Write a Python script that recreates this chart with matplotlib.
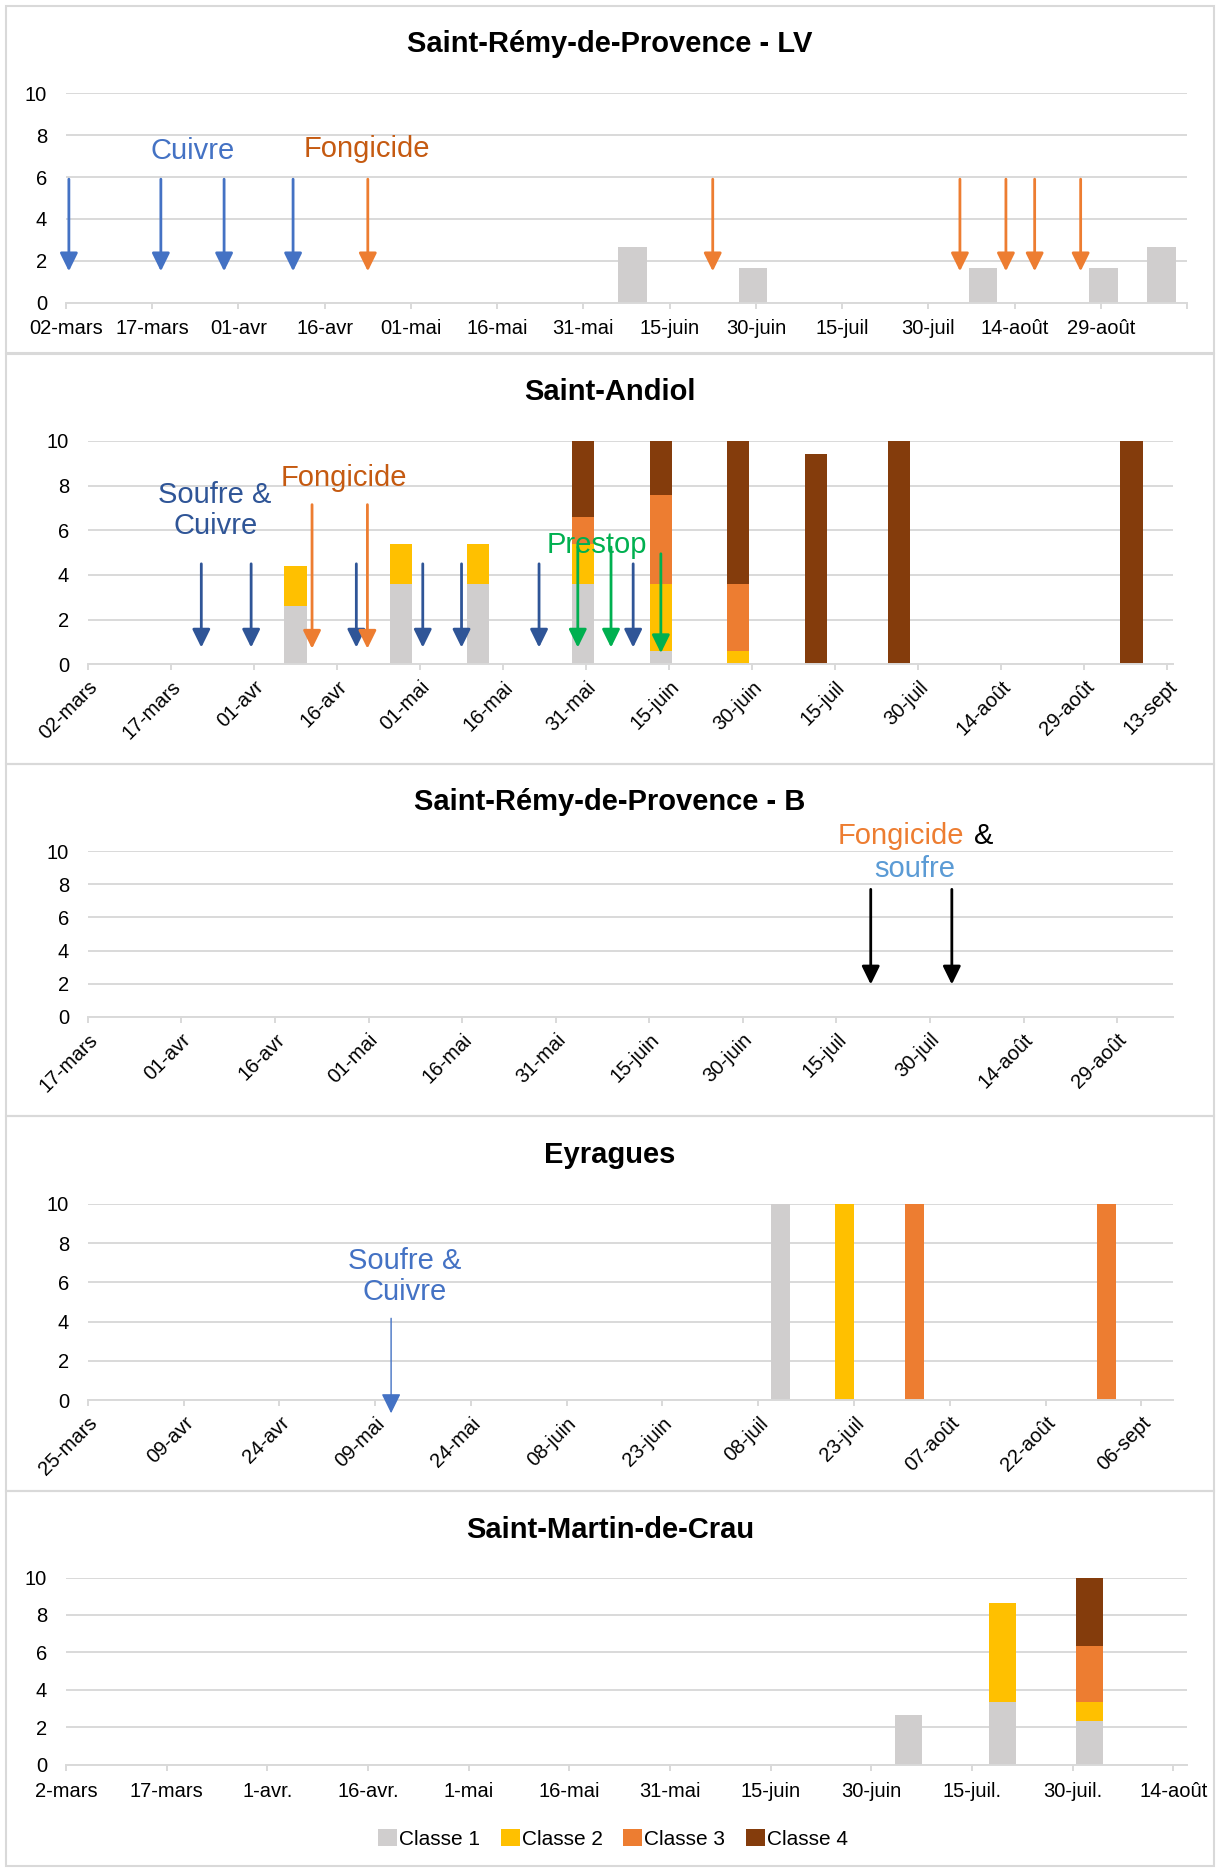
import numpy as np
import matplotlib
matplotlib.use('Agg')
import matplotlib.pyplot as plt
from matplotlib.patches import Rectangle

plt.rcParams['font.family'] = ['Liberation Sans', 'DejaVu Sans']

W, H, DPI = 1218, 1868, 100

CLASSES = ['Classe 1', 'Classe 2', 'Classe 3', 'Classe 4']
CLASS_COLORS = ['#D0CECE', '#FFC000', '#ED7D31', '#843C0C']
GRID = '#D9D9D9'

# --- Saint-Rémy-de-Provence - LV
lv_start = '2021-03-02'
lv_span = 195
lv_ticks = ['02-mars', '17-mars', '01-avr', '16-avr', '01-mai', '16-mai', '31-mai',
            '15-juin', '30-juin', '15-juil', '30-juil', '14-août', '29-août', '']
lv_dates = ['2021-06-08', '2021-06-29', '2021-08-08', '2021-08-29', '2021-09-08']
lv_c1 = [2.65, 1.65, 1.65, 1.65, 2.65]
lv_cuivre = ['2021-03-02', '2021-03-18', '2021-03-29', '2021-04-10']
lv_fongicide = ['2021-04-23', '2021-06-22', '2021-08-04', '2021-08-12',
                '2021-08-17', '2021-08-25']

# --- Saint-Andiol
sa_start = '2021-03-02'
sa_span = 196
sa_ticks = ['02-mars', '17-mars', '01-avr', '16-avr', '01-mai', '16-mai', '31-mai',
            '15-juin', '30-juin', '15-juil', '30-juil', '14-août', '29-août', '13-sept']
sa_dates = ['2021-04-08', '2021-04-27', '2021-05-11', '2021-05-30', '2021-06-13',
            '2021-06-27', '2021-07-11', '2021-07-26', '2021-09-06']
sa_c1 = [2.6, 3.6, 3.6, 3.6, 0.6, 0, 0, 0, 0]
sa_c2 = [1.8, 1.8, 1.8, 1.8, 3.0, 0.6, 0, 0, 0]
sa_c3 = [0, 0, 0, 1.2, 4.0, 3.0, 0, 0, 0]
sa_c4 = [0, 0, 0, 3.4, 2.4, 6.4, 9.4, 10, 10]
sa_soufre_cuivre = ['2021-03-22', '2021-03-31', '2021-04-19', '2021-05-01',
                    '2021-05-08', '2021-05-22', '2021-06-08']
sa_fongicide = ['2021-04-11', '2021-04-21']
sa_prestop = ['2021-05-29', '2021-06-04', '2021-06-13']
sa_prestop_top = [5.25, 5.25, 4.95]
sa_prestop_tip = [0.75, 0.75, 0.5]

# --- Saint-Rémy-de-Provence - B
b_start = '2021-03-17'
b_span = 174
b_ticks = ['17-mars', '01-avr', '16-avr', '01-mai', '16-mai', '31-mai', '15-juin',
           '30-juin', '15-juil', '30-juil', '14-août', '29-août']
b_fongicide_soufre = ['2021-07-20', '2021-08-02']

# --- Eyragues
ey_start = '2021-03-25'
ey_span = 170
ey_ticks = ['25-mars', '09-avr', '24-avr', '09-mai', '24-mai', '08-juin', '23-juin',
            '08-juil', '23-juil', '07-août', '22-août', '06-sept']
ey_dates = ['2021-07-11', '2021-07-21', '2021-08-01', '2021-08-31']
ey_c1 = [10, 0, 0, 0]
ey_c2 = [0, 10, 0, 0]
ey_c3 = [0, 0, 10, 10]
ey_c4 = [0, 0, 0, 0]
ey_soufre_cuivre = ['2021-05-11']

# --- Saint-Martin-de-Crau
mc_start = '2021-03-02'
mc_span = 167
mc_ticks = ['2-mars', '17-mars', '1-avr.', '16-avr.', '1-mai', '16-mai', '31-mai',
            '15-juin', '30-juin', '15-juil.', '30-juil.', '14-août']
mc_dates = ['2021-07-05', '2021-07-19', '2021-08-01']
mc_c1 = [2.65, 3.33, 2.33]
mc_c2 = [0, 5.3, 1.0]
mc_c3 = [0, 0, 3.0]
mc_c4 = [0, 0, 3.67]


def days(dates, start):
    # bars and arrows sit in the middle of their day slot
    d = np.array(dates, dtype='datetime64[D]') - np.datetime64(start)
    return d.astype(float) + 0.5


def px_axes(fig, left, right, top, bottom):
    return fig.add_axes([left / W, 1 - bottom / H, (right - left) / W, (bottom - top) / H])


def setup(ax, span, ticks, rotate=False):
    ax.set_xlim(0, span)
    ax.set_ylim(0, 10)
    ax.set_yticks(range(0, 11, 2))
    ax.set_xticks(np.arange(len(ticks)) * 15)
    ax.set_xticklabels(ticks)
    ax.grid(axis='y', color=GRID, lw=1.4)
    ax.set_axisbelow(True)
    for s in ('top', 'right', 'left'):
        ax.spines[s].set_visible(False)
    ax.spines['bottom'].set_color(GRID)
    ax.spines['bottom'].set_linewidth(1.4)
    ax.tick_params(axis='y', length=0, pad=13.5, labelsize=14.5)
    ax.tick_params(axis='x', length=4.5, width=1.4, color=GRID, labelsize=14.5,
                   pad=5 if rotate else 7.5)
    if rotate:
        for lab in ax.get_xticklabels():
            lab.set_rotation(45)
            lab.set_ha('right')
            lab.set_rotation_mode('anchor')


def stacked(ax, x, layers, width):
    bottom = np.zeros(len(x))
    bars = []
    for vals, lab, col in zip(layers, CLASSES, CLASS_COLORS):
        vals = np.asarray(vals, dtype=float)
        bars.append(ax.bar(x, vals, width, bottom=bottom, color=col, label=lab,
                           zorder=2))
        bottom += vals
    return bars


def arrows(ax, xs, top, tip, color, lw=2.0, scale=20):
    tops = np.broadcast_to(top, len(xs))
    tips = np.broadcast_to(tip, len(xs))
    for x, t0, t1 in zip(xs, tops, tips):
        ax.annotate('', xy=(x, t1), xytext=(x, t0), annotation_clip=False,
                    arrowprops=dict(arrowstyle='-|>,head_length=0.55,head_width=0.27',
                                    color=color, lw=lw, mutation_scale=scale,
                                    shrinkA=0, shrinkB=0), zorder=4)


fig = plt.figure(figsize=(W / DPI, H / DPI), dpi=DPI)

# panel frames
for y0, y1 in [(6, 353), (354, 764), (764, 1116), (1116, 1491), (1491, 1866)]:
    fig.add_artist(Rectangle((6 / W, 1 - y1 / H), (1214 - 6) / W, (y1 - y0) / H,
                             transform=fig.transFigure, fill=False, ec=GRID, lw=1.5))

titles = [('Saint-Rémy-de-Provence - LV', 44), ('Saint-Andiol', 392),
          ('Saint-Rémy-de-Provence - B', 802), ('Eyragues', 1155),
          ('Saint-Martin-de-Crau', 1530)]
for t, y in titles:
    fig.text(610 / W, 1 - y / H, t, ha='center', va='center', fontsize=21,
             fontweight='bold')

# Saint-Rémy-de-Provence - LV
ax = px_axes(fig, 66, 1187, 93.3, 302.7)
setup(ax, lv_span, lv_ticks)
stacked(ax, days(lv_dates, lv_start), [lv_c1], 5)
arrows(ax, days(lv_cuivre, lv_start), 5.9, 1.5, '#4472C4')
arrows(ax, days(lv_fongicide, lv_start), 5.9, 1.5, '#ED7D31')
ax.text(22, 7.25, 'Cuivre', color='#4472C4', fontsize=21, ha='center', va='center')
ax.text(52.4, 7.35, 'Fongicide', color='#C55A11', fontsize=21, ha='center', va='center')

# Saint-Andiol
ax = px_axes(fig, 87.8, 1173, 441, 664.3)
setup(ax, sa_span, sa_ticks, rotate=True)
stacked(ax, days(sa_dates, sa_start), [sa_c1, sa_c2, sa_c3, sa_c4], 4)
arrows(ax, days(sa_soufre_cuivre, sa_start), 4.5, 0.75, '#2F5597')
arrows(ax, days(sa_fongicide, sa_start), 7.15, 0.7, '#ED7D31')
arrows(ax, days(sa_prestop, sa_start), sa_prestop_top, sa_prestop_tip, '#00B050')
ax.text(23, 6.9, 'Soufre &\nCuivre', color='#2F5597', fontsize=21, ha='center',
        va='center', linespacing=1.15)
ax.text(46.3, 8.34, 'Fongicide', color='#C55A11', fontsize=21, ha='center', va='center')
ax.text(91.9, 5.36, 'Prestop', color='#00B050', fontsize=21, ha='center', va='center',
        zorder=5)

# Saint-Rémy-de-Provence - B
ax = px_axes(fig, 87.8, 1173.3, 851.3, 1016.7)
setup(ax, b_span, b_ticks, rotate=True)
arrows(ax, days(b_fongicide_soufre, b_start), 7.7, 1.95, 'black')
ax.text(120.2, 10.9, 'Fongicide', color='#ED7D31', fontsize=21, ha='left', va='center')
ax.text(142.0, 10.9, '&', color='black', fontsize=21, ha='left', va='center')
ax.text(132.5, 8.94, 'soufre', color='#5B9BD5', fontsize=21, ha='center', va='center')

# Eyragues
ax = px_axes(fig, 87.8, 1173.3, 1203.7, 1400.3)
setup(ax, ey_span, ey_ticks, rotate=True)
stacked(ax, days(ey_dates, ey_start), [ey_c1, ey_c2, ey_c3, ey_c4], 2.9)
arrows(ax, days(ey_soufre_cuivre, ey_start), 4.17, -0.66, '#4472C4', lw=1.0, scale=22)
ax.text(49.6, 6.3, 'Soufre &\nCuivre', color='#4472C4', fontsize=21, ha='center',
        va='center', linespacing=1.15)

# Saint-Martin-de-Crau
ax = px_axes(fig, 66, 1186.7, 1577.5, 1764.9)
setup(ax, mc_span, mc_ticks)
bars = stacked(ax, days(mc_dates, mc_start), [mc_c1, mc_c2, mc_c3, mc_c4], 4)

fig.legend(bars, CLASSES, loc='center', bbox_to_anchor=(613 / W, 1 - 1839 / H),
           ncol=4, frameon=False, fontsize=15, handlelength=0.9, handleheight=0.9,
           handletextpad=0.1, columnspacing=1.0, borderaxespad=0, borderpad=0)

fig.savefig('out.png', dpi=DPI, facecolor='white')
